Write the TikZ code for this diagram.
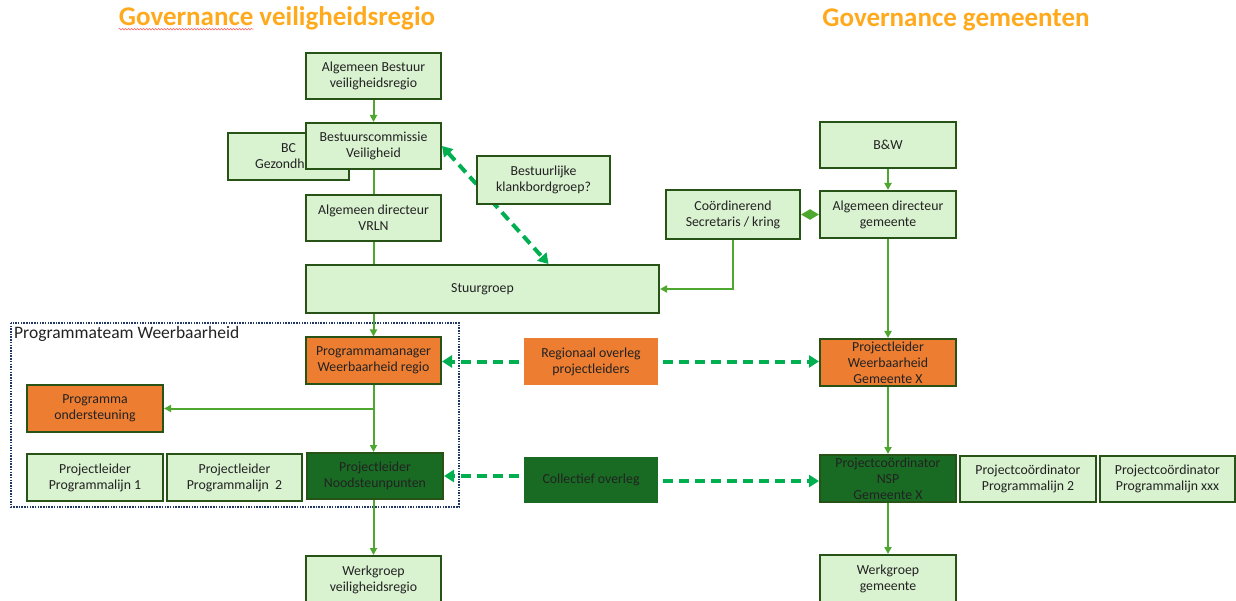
\documentclass[tikz,border=0pt]{standalone}
\usepackage{fontspec}
\setmainfont{Carlito}
\usetikzlibrary{arrows.meta,positioning,decorations.pathmorphing}
\definecolor{lichtgroen}{HTML}{D9F2D0}
\definecolor{rand}{HTML}{275317}
\definecolor{oranje}{HTML}{ED7D31}
\definecolor{donkergroen}{HTML}{196B24}
\definecolor{lijn}{HTML}{4EA72E}
\definecolor{stippel}{HTML}{00B050}
\definecolor{titel}{HTML}{FFAA1D}
\definecolor{kader}{HTML}{1F3864}
\definecolor{tekst}{HTML}{222222}
\tikzset{
	box/.style={draw=rand, line width=2pt, fill=lichtgroen, minimum width=135pt, minimum height=46pt, align=center, text=tekst, inner sep=0pt, font=\fontsize{13.8}{16}\selectfont},
	oranjebox/.style={box, fill=oranje},
	donkerbox/.style={box, fill=donkergroen},
	kop/.style={text=titel, inner sep=0pt, font=\fontsize{27}{30}\selectfont\bfseries},
	verbind/.style={draw=lijn, line width=2pt},
	lijnpijl/.style={verbind, -{Triangle[length=7pt,width=7pt]}},
	overleg/.style={draw=stippel, line width=4pt, dash pattern=on 10pt off 6pt, shorten <=4pt, -{Triangle[length=10pt,width=12pt]}},
}
\begin{document}
\begin{tikzpicture}[x=1pt, y=-1pt]
		\useasboundingbox (0,0) rectangle (1236,601);
		\node[kop] (TV) at (277,18) {Governance veiligheidsregio};
		\node[kop] (TG) at (956,20) {Governance gemeenten};
		\draw[red!60, line width=0.6pt, decorate, decoration={snake, amplitude=0.8pt, segment length=3pt}] ([yshift=-4pt]TV.base west) -- ++(135,0);
		\draw[kader, line width=1.5pt, dash pattern=on 1.5pt off 1.2pt] (11,323) rectangle (459,507);
		\node[anchor=north west, inner sep=0pt, text=tekst, font=\fontsize{17.5}{20}\selectfont] (PT) at (14,326) {Programmateam Weerbaarheid};
		\node[box] (AB) at (373.5,76) {Algemeen Bestuur\\veiligheidsregio};
		\node[box, minimum width=121pt, minimum height=47pt] (BCG) at (288.5,156.5) {BC\\Gezondheid};
		\node[box] (BV) at (373.5,146) {Bestuurscommissie\\Veiligheid};
		\node[box] (ADV) at (373.5,218) {Algemeen directeur\\VRLN};
		\node[box, minimum width=353pt, minimum height=48pt] (SG) at (482.5,289) {Stuurgroep};
		\draw[overleg, {Triangle[length=10pt,width=12pt]}-{Triangle[length=10pt,width=12pt]}, shorten <=0pt] (BV.east) -- ([xshift=66pt]SG.north);
		\node[box, minimum width=133pt, minimum height=48pt] (KB) at (543.5,180) {Bestuurlijke\\klankbordgroep?};
		\node[oranjebox] (PM) at (373.5,360.5) {Programmamanager\\Weerbaarheid regio};
		\node[oranjebox, minimum width=136pt, minimum height=47pt] (PO) at (95,408.5) {Programma\\ondersteuning};
		\node[box, minimum width=136pt, minimum height=47pt] (PL1) at (95,477.5) {Projectleider\\Programmalijn 1};
		\node[box, minimum width=135pt, minimum height=47pt] (PL2) at (234.5,477.5) {Projectleider\\Programmalijn~ 2};
		\node[donkerbox, minimum width=136pt] (NSP) at (375,476) {Projectleider\\Noodsteunpunten};
		\node[box, minimum height=48pt] (WV) at (373.5,580) {Werkgroep\\veiligheidsregio};
		\node[oranjebox, draw=none, minimum width=134pt] (RO) at (591,361.5) {Regionaal overleg\\projectleiders};
		\node[donkerbox, draw=none, minimum width=134pt] (CO) at (591,479.5) {Collectief overleg};
		\node[box, minimum width=136pt] (BW) at (888,145) {B\&W};
		\node[box, minimum width=136pt, minimum height=47pt] (ADG) at (888,214.5) {Algemeen directeur\\gemeente};
		\node[box, minimum width=134pt, minimum height=49pt] (CS) at (733,214.5) {Coördinerend\\Secretaris / kring};
		\node[oranjebox, minimum width=136pt, minimum height=47pt] (PW) at (888,362.5) {Projectleider\\Weerbaarheid\\Gemeente X};
		\node[donkerbox, minimum width=136pt, minimum height=47pt] (PN) at (888,478.5) {Projectcoördinator\\NSP\\Gemeente X};
		\node[box, minimum width=136pt] (PC2) at (1028,479) {Projectcoördinator\\Programmalijn 2};
		\node[box, minimum width=135pt] (PCX) at (1167.5,479) {Projectcoördinator\\Programmalijn xxx};
		\node[box, minimum width=136pt, minimum height=48pt] (WG) at (888,579) {Werkgroep\\gemeente};
		\draw[lijnpijl] (AB) -- (BV);
		\draw[verbind] (BV) -- (ADV);
		\draw[verbind] (ADV.south) -- (ADV.south |- SG.north);
		\draw[lijnpijl] (PM.north |- SG.south) -- (PM.north);
		\draw[lijnpijl] (PM.south) -- (PM.south |- NSP.north);
		\draw[lijnpijl] (PM.south |- PO.east) -- (PO.east);
		\draw[lijnpijl] (WV.north |- NSP.south) -- (WV.north);
		\draw[overleg] (RO.west) -- (RO.west -| PM.east);
		\draw[overleg] (RO.east) -- (RO.east -| PW.west);
		\draw[overleg] (CO.west |- NSP) -- (NSP.east);
		\draw[overleg] ([yshift=-1.5pt]CO.east) -- ([yshift=-1.5pt]CO.east -| PN.west);
		\draw[lijnpijl] (BW) -- (ADG);
		\draw[verbind, {Triangle[length=9pt,width=10pt]}-{Triangle[length=9pt,width=10pt]}] (CS.east) -- (ADG.west);
		\draw[lijnpijl] (CS.south) |- (SG.east);
		\draw[lijnpijl] (ADG) -- (PW);
		\draw[lijnpijl] (PW) -- (PN);
		\draw[lijnpijl] (PN) -- (WG);
	\end{tikzpicture}
\end{document}
